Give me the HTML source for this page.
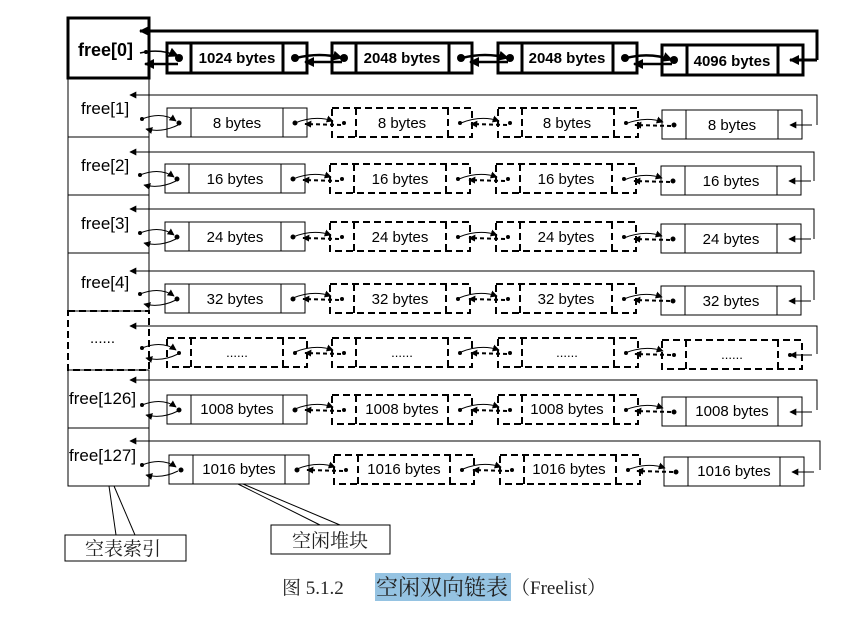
<!DOCTYPE html>
<html><head><meta charset="utf-8"><style>
html,body{margin:0;padding:0;background:#fff;}
svg{display:block;}
text{font-family:"Liberation Sans",Arial,sans-serif;}
.cjk{font-family:"Liberation Serif","Noto Serif CJK SC","Noto Sans CJK SC",serif;}
</style></head><body>
<svg width="849" height="622" viewBox="0 0 849 622" xmlns="http://www.w3.org/2000/svg">
<defs>
<marker id="ah" viewBox="0 0 10 10" refX="9" refY="5" markerWidth="7" markerHeight="7" markerUnits="userSpaceOnUse" orient="auto"><path d="M0,0L10,5L0,10z" fill="#000"/></marker>
<marker id="ahb" viewBox="0 0 10 10" refX="9" refY="5" markerWidth="10" markerHeight="10" markerUnits="userSpaceOnUse" orient="auto"><path d="M0,0L10,5L0,10z" fill="#000"/></marker>
<g id="blk" fill="none" stroke="#000" stroke-width="1">
<rect x="0" y="0" width="140" height="29"/><line x1="24" y1="0" x2="24" y2="29"/><line x1="116" y1="0" x2="116" y2="29"/>
<circle cx="12" cy="15" r="2" fill="#000"/><circle cx="128" cy="15" r="2" fill="#000"/></g>
<g id="blkd" fill="none" stroke="#000" stroke-width="2" stroke-dasharray="7,4">
<rect x="0" y="0" width="140" height="29"/><line x1="24" y1="0" x2="24" y2="29"/><line x1="116" y1="0" x2="116" y2="29"/>
<circle cx="12" cy="15" r="2" fill="#000" stroke="none"/><circle cx="128" cy="15" r="2" fill="#000" stroke="none"/></g>
<g id="blkl" fill="none" stroke="#000" stroke-width="1">
<rect x="0" y="0" width="140" height="29"/><line x1="24" y1="0" x2="24" y2="29"/><line x1="116" y1="0" x2="116" y2="29"/>
<circle cx="12" cy="15" r="2" fill="#000"/><line x1="150" y1="15" x2="128" y2="15" marker-end="url(#ah)"/></g>
<g id="cn" fill="none" stroke="#000" stroke-width="1">
<path d="M0,0 Q20,-8 38,-2" marker-end="url(#ah)"/><path d="M46,2 L10,1" stroke-width="2" stroke-dasharray="4,3" marker-end="url(#ah)"/></g>
<g id="lc" fill="none" stroke="#000" stroke-width="1">
<path d="M0,-4 Q20,-12 34,-2" marker-end="url(#ah)"/><path d="M36,2 Q20,10 4,6" marker-end="url(#ah)"/></g>
</defs>

<g fill="none" stroke="#000">
<rect x="68" y="18" width="81" height="60" stroke-width="3"/>
<rect x="68" y="78" width="81" height="59"/>
<rect x="68" y="137" width="81" height="58"/>
<rect x="68" y="195" width="81" height="58"/>
<rect x="68" y="253" width="81" height="58"/>
<rect x="68" y="311" width="81" height="59" stroke-width="2" stroke-dasharray="7,4"/>
<rect x="68" y="370" width="81" height="58"/>
<rect x="68" y="428" width="81" height="58"/>
</g>
<g font-size="17">
<text x="78" y="56" font-weight="bold" font-size="18">free[0]</text>
<text x="81" y="114">free[1]</text>
<text x="81" y="171">free[2]</text>
<text x="81" y="229">free[3]</text>
<text x="81" y="288">free[4]</text>
<text x="90" y="343" font-size="15">......</text>
<text x="69" y="404">free[126]</text>
<text x="69" y="461">free[127]</text>
</g>

<g fill="none" stroke="#000" stroke-width="3">
<polyline points="817,60 817,31 140,31" marker-end="url(#ahb)"/>
<line x1="817" y1="60" x2="790" y2="60" marker-end="url(#ahb)"/>
<rect x="167" y="43" width="140" height="30"/><line x1="191" y1="43" x2="191" y2="73"/><line x1="283" y1="43" x2="283" y2="73"/>
<rect x="332" y="43" width="140" height="30"/><line x1="356" y1="43" x2="356" y2="73"/><line x1="449" y1="43" x2="449" y2="73"/>
<rect x="498" y="43" width="139" height="30"/><line x1="522" y1="43" x2="522" y2="73"/><line x1="613" y1="43" x2="613" y2="73"/>
<rect x="662" y="45" width="141" height="30"/><line x1="687" y1="45" x2="687" y2="75"/><line x1="778" y1="45" x2="778" y2="75"/>
<path d="M140,53 Q160,48 178,56" stroke-width="1.5" marker-end="url(#ahb)"/>
<path d="M178,64 L145,64" stroke-width="2.5" marker-end="url(#ahb)"/>
<path d="M296,58 Q320,52 342,58" stroke-width="2.5" marker-end="url(#ahb)"/>
<path d="M342,62 L305,62" stroke-width="2.5" marker-end="url(#ahb)"/>
<path d="M462,58 Q485,52 508,58" stroke-width="2.5" marker-end="url(#ahb)"/>
<path d="M508,62 L470,62" stroke-width="2.5" marker-end="url(#ahb)"/>
<path d="M626,58 Q650,52 672,60" stroke-width="2.5" marker-end="url(#ahb)"/>
<path d="M672,64 L634,64" stroke-width="2.5" marker-end="url(#ahb)"/>
</g>
<g fill="#000"><circle cx="179" cy="58" r="4"/><circle cx="295" cy="58" r="4"/><circle cx="344" cy="58" r="4"/><circle cx="461" cy="58" r="4"/><circle cx="510" cy="58" r="4"/><circle cx="625" cy="58" r="4"/><circle cx="674" cy="60" r="4"/><circle cx="146" cy="52" r="2"/></g>
<g font-size="15" font-weight="bold" text-anchor="middle">
<text x="237" y="63">1024 bytes</text><text x="402" y="63">2048 bytes</text><text x="567" y="63">2048 bytes</text><text x="732" y="66">4096 bytes</text>
</g>

<g fill="none" stroke="#000" stroke-width="1">
<polyline points="817,125 817,95 130,95" marker-end="url(#ah)"/>
<polyline points="814,181 814,152 130,152" marker-end="url(#ah)"/>
<polyline points="814,239 814,209 130,209" marker-end="url(#ah)"/>
<polyline points="814,300 814,271 130,271" marker-end="url(#ah)"/>
<polyline points="817,354 817,326 130,326" marker-end="url(#ah)"/>
<polyline points="817,410 817,380 130,380" marker-end="url(#ah)"/>
<polyline points="820,470 820,441 130,441" marker-end="url(#ah)"/>
</g>
<g fill="#000"><circle cx="142" cy="119" r="2"/><circle cx="140" cy="175" r="2"/><circle cx="140" cy="233" r="2"/><circle cx="140" cy="294" r="2"/><circle cx="142" cy="348" r="2"/><circle cx="142" cy="405" r="2"/><circle cx="142" cy="465" r="2"/></g>

<use href="#blk" x="167" y="108"/><use href="#blkd" x="332" y="108"/><use href="#blkd" x="498" y="108"/><use href="#blkl" x="662" y="110"/>
<use href="#lc" x="142" y="123"/><use href="#cn" x="295" y="123"/><use href="#cn" x="461" y="123"/><use href="#cn" x="625" y="124"/>

<use href="#blk" x="165" y="164"/><use href="#blkd" x="330" y="164"/><use href="#blkd" x="496" y="164"/><use href="#blkl" x="661" y="166"/>
<use href="#lc" x="140" y="179"/><use href="#cn" x="293" y="179"/><use href="#cn" x="459" y="179"/><use href="#cn" x="624" y="180"/>

<use href="#blk" x="165" y="222"/><use href="#blkd" x="330" y="222"/><use href="#blkd" x="496" y="222"/><use href="#blkl" x="661" y="224"/>
<use href="#lc" x="140" y="237"/><use href="#cn" x="293" y="237"/><use href="#cn" x="459" y="237"/><use href="#cn" x="624" y="238"/>

<use href="#blk" x="165" y="284"/><use href="#blkd" x="330" y="284"/><use href="#blkd" x="496" y="284"/><use href="#blkl" x="661" y="286"/>
<use href="#lc" x="140" y="298"/><use href="#cn" x="293" y="298"/><use href="#cn" x="459" y="298"/><use href="#cn" x="624" y="299"/>

<use href="#blkd" x="167" y="338"/><use href="#blkd" x="332" y="338"/><use href="#blkd" x="498" y="338"/><use href="#blkd" x="662" y="340"/>
<line x1="812" y1="355" x2="790" y2="355" stroke="#000" marker-end="url(#ah)"/>
<use href="#lc" x="142" y="352"/><use href="#cn" x="295" y="352"/><use href="#cn" x="461" y="352"/><use href="#cn" x="625" y="353"/>

<use href="#blk" x="167" y="395"/><use href="#blkd" x="332" y="395"/><use href="#blkd" x="498" y="395"/><use href="#blkl" x="662" y="397"/>
<use href="#lc" x="142" y="409"/><use href="#cn" x="295" y="409"/><use href="#cn" x="461" y="409"/><use href="#cn" x="625" y="410"/>

<use href="#blk" x="169" y="455"/><use href="#blkd" x="334" y="455"/><use href="#blkd" x="500" y="455"/><use href="#blkl" x="664" y="457"/>
<use href="#lc" x="142" y="469"/><use href="#cn" x="297" y="469"/><use href="#cn" x="463" y="469"/><use href="#cn" x="627" y="470"/>

<g font-size="15" text-anchor="middle">
<text x="237" y="128">8 bytes</text><text x="402" y="128">8 bytes</text><text x="567" y="128">8 bytes</text><text x="732" y="130">8 bytes</text>
<text x="235" y="184">16 bytes</text><text x="400" y="184">16 bytes</text><text x="566" y="184">16 bytes</text><text x="731" y="186">16 bytes</text>
<text x="235" y="242">24 bytes</text><text x="400" y="242">24 bytes</text><text x="566" y="242">24 bytes</text><text x="731" y="244">24 bytes</text>
<text x="235" y="304">32 bytes</text><text x="400" y="304">32 bytes</text><text x="566" y="304">32 bytes</text><text x="731" y="306">32 bytes</text>
<text x="237" y="357" font-size="13">......</text><text x="402" y="357" font-size="13">......</text><text x="567" y="357" font-size="13">......</text><text x="732" y="359" font-size="13">......</text>
<text x="237" y="414">1008 bytes</text><text x="402" y="414">1008 bytes</text><text x="567" y="414">1008 bytes</text><text x="732" y="416">1008 bytes</text>
<text x="239" y="474">1016 bytes</text><text x="404" y="474">1016 bytes</text><text x="569" y="474">1016 bytes</text><text x="734" y="476">1016 bytes</text>
</g>

<g fill="none" stroke="#000" stroke-width="1">
<line x1="109" y1="486" x2="116" y2="535"/><line x1="114" y1="486" x2="135" y2="535"/>
<rect x="65" y="535" width="121" height="26"/>
<line x1="238" y1="484" x2="320" y2="525"/><line x1="243" y1="484" x2="340" y2="525"/>
<rect x="271" y="525" width="119" height="29"/>
</g>
<g font-size="19" fill="#222">
<text x="85" y="555" class="cjk">空表索引</text>
<text x="292" y="547" class="cjk">空闲堆块</text>
</g>
<rect x="375" y="573" width="136" height="28" fill="#95c3e2"/>
<g font-size="19" fill="#222">
<text x="282" y="594" class="cjk">图 5.1.2</text>
<text x="376" y="595" class="cjk" font-size="22">空闲双向链表</text>
<text x="511" y="594" class="cjk">（Freelist）</text>
</g>
</svg>
</body></html>
